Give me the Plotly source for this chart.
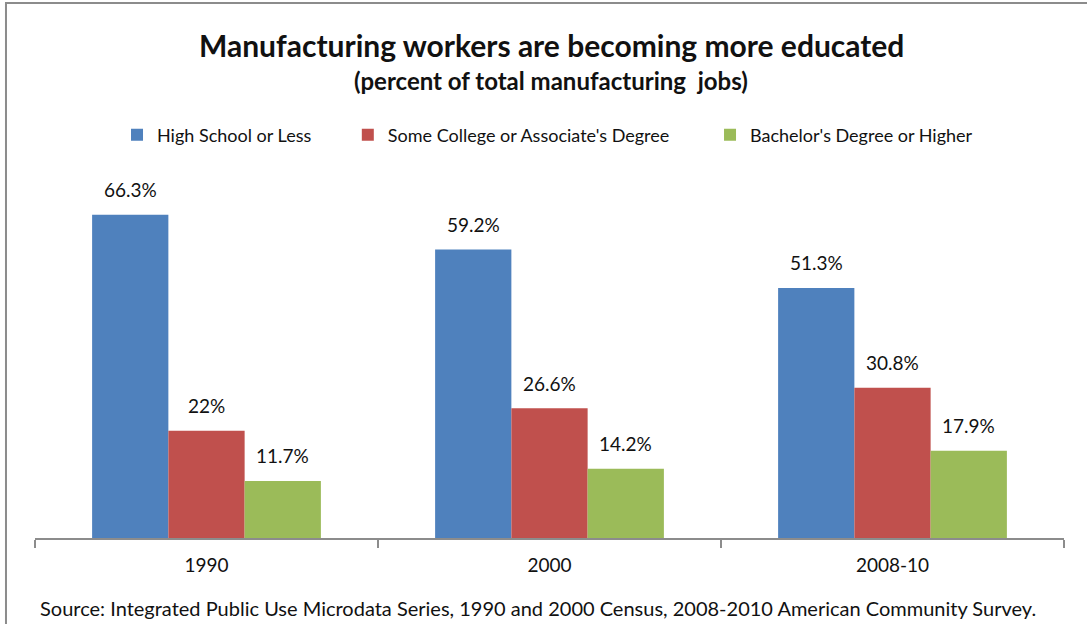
import plotly.graph_objects as go

# Education mix of manufacturing workers, percent of total manufacturing jobs
periods = ["1990", "2000", "2008-10"]
high_school = [66.3, 59.2, 51.3]
some_college = [22.0, 26.6, 30.8]
bachelors = [11.7, 14.2, 17.9]

series_names = ["High School or Less",
                "Some College or Associate's Degree",
                "Bachelor's Degree or Higher"]
series_values = [high_school, some_college, bachelors]
series_colors = ["#4F81BD", "#C0504D", "#9BBB59"]
legend_ids = ["legend", "legend2", "legend3"]
legend_x = [0.0797, 0.304, 0.656]

FONT = "Lato, 'Open Sans', sans-serif"
TEXT = "#111111"
AXIS = "#8C8C8C"

fig = go.Figure()
for name, vals, color, lg in zip(series_names, series_values, series_colors, legend_ids):
    fig.add_trace(go.Bar(
        x=periods, y=vals, name=name, legend=lg,
        marker=dict(color=color, line=dict(width=0)),
        hoverinfo="skip",
    ))

# Value labels above each bar (x given as category index)
bar_px = 76.3
for i, vals in enumerate(series_values):
    for k, v in enumerate(vals):
        fig.add_annotation(
            x=k, y=v, xref="x", yref="y",
            text=f"{v:g}%", showarrow=False,
            xshift=(i - 1) * bar_px, yshift=25, yanchor="middle",
            font=dict(family=FONT, size=19, color=TEXT),
        )

# Chart title and subtitle
fig.add_annotation(
    x=0.5015, y=1.264, xref="paper", yref="paper", yanchor="middle",
    showarrow=False,
    text="<b>Manufacturing workers are becoming more educated</b>",
    font=dict(family=FONT, size=30, color=TEXT),
)
fig.add_annotation(
    x=0.5015, y=1.174, xref="paper", yref="paper", yanchor="middle",
    showarrow=False,
    text="<b>(percent of total manufacturing  jobs)</b>",
    font=dict(family=FONT, size=24, color=TEXT),
)

# Source note
fig.add_annotation(
    x=0.003, y=-0.179, xref="paper", yref="paper", xanchor="left", yanchor="middle",
    showarrow=False,
    text="Source: Integrated Public Use Microdata Series, 1990 and 2000 Census, "
         "2008-2010 American Community Survey.",
    font=dict(family=FONT, size=20, color=TEXT),
)

# Frame around the chart area
fig.add_shape(
    type="rect", xref="paper", yref="paper",
    x0=-0.0282, x1=1.2, y0=-0.5, y1=1.372,
    line=dict(color=AXIS, width=2), fillcolor="rgba(0,0,0,0)", layer="below",
)

legend_layout = {}
for lg, lx in zip(legend_ids, legend_x):
    legend_layout[lg] = dict(
        orientation="h", x=lx, xanchor="left", y=1.033, yanchor="middle",
        xref="paper", yref="paper", bgcolor="rgba(0,0,0,0)",
        font=dict(family=FONT, size=18, color=TEXT),
    )

fig.update_layout(
    width=1087, height=624,
    margin=dict(l=35, r=23, t=148, b=86),
    paper_bgcolor="white", plot_bgcolor="white",
    barmode="group", bargap=0.333, bargroupgap=0,
    font=dict(family=FONT, size=18, color=TEXT),
    showlegend=True,
    **legend_layout,
)

fig.update_xaxes(
    type="category", range=[-0.5, 2.5], showline=True, linecolor=AXIS, linewidth=2,
    ticks="outside", tickson="boundaries", ticklen=8, tickwidth=2,
    tickcolor=AXIS, showgrid=False, zeroline=False, ticklabelstandoff=9,
    tickfont=dict(family=FONT, size=19, color=TEXT),
)
fig.update_yaxes(range=[0, 80], visible=False, showgrid=False, zeroline=False)

fig.write_html("out.html")
